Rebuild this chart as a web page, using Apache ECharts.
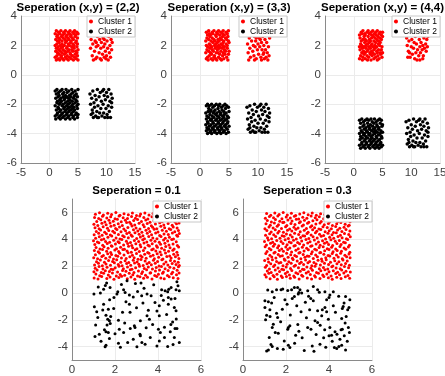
<!DOCTYPE html>
<html>
<head>
<meta charset="utf-8">
<script src="https://cdn.jsdelivr.net/npm/echarts@6/dist/echarts.min.js"></script>
<style>
  html, body { margin: 0; padding: 0; background: #fff; }
  #chart { width: 445px; height: 376px; }
</style>
</head>
<body>
<div id="chart"></div>
<script>
// tick labels
const topXTicks = [-5, 0, 5, 10, 15];
const topYTicks = [-6, -4, -2, 0, 2, 4];
const botXTicks = [0, 2, 4, 6];
const botYTicks = [-4, -2, 0, 2, 4, 6];
const botYRange = [-5, 7];

const titles = ['Seperation (x,y) = (2,2)', 'Seperation (x,y) = (3,3)', 'Seperation (x,y) = (4,4)',
  'Seperation = 0.1', 'Seperation = 0.3'];
const names = ['Cluster 1', 'Cluster 2'];

// separation (2,2)
const rd22 = [[1.0,1.2],[1.2,1.0],[1.3,1.3],[1.5,1.1],[1.7,1.4],[1.8,1.0],[2.0,1.2],[2.1,1.3],[2.3,1.1],[2.5,1.0],[2.6,1.4],[2.8,1.2],[3.0,1.1],[3.1,1.3],[3.3,1.0],[3.5,1.2],[3.7,1.4],[3.8,1.1],[4.0,1.3],[4.2,1.0],[4.4,1.2],[4.5,1.4],[4.7,1.1],[4.9,1.3],[5.0,1.0],
  [1.1,1.6],[1.2,1.8],[1.4,1.5],[1.6,1.7],[1.9,1.6],[2.0,1.8],[2.2,1.5],[2.4,1.7],[2.7,1.6],[2.9,1.5],[3.0,1.8],[3.2,1.6],[3.4,1.7],[3.6,1.5],[3.9,1.7],[4.1,1.6],[4.3,1.8],[4.6,1.6],[4.8,1.5],[5.0,1.7],
  [1.0,2.0],[1.3,2.1],[1.5,1.9],[1.7,2.2],[1.9,2.0],[2.2,2.1],[2.3,1.9],[2.6,2.0],[2.8,2.2],[3.1,1.9],[3.3,2.1],[3.5,2.0],[3.7,2.2],[3.9,1.9],[4.1,2.1],[4.3,2.0],[4.6,2.2],[4.8,1.9],[4.9,2.1],
  [1.1,2.4],[1.3,2.6],[1.4,2.3],[1.6,2.5],[1.8,2.4],[2.1,2.6],[2.2,2.3],[2.4,2.5],[2.7,2.4],[2.9,2.6],[3.0,2.3],[3.2,2.5],[3.4,2.4],[3.7,2.6],[3.8,2.3],[4.0,2.5],[4.2,2.4],[4.5,2.6],[4.7,2.3],[4.9,2.5],
  [1.0,2.8],[1.2,3.0],[1.4,2.7],[1.6,2.9],[1.8,2.8],[2.0,3.0],[2.3,2.7],[2.5,2.9],[2.6,2.8],[2.8,3.0],[3.1,2.7],[3.3,2.9],[3.5,2.8],[3.6,3.0],[3.8,2.7],[4.1,2.9],[4.3,2.8],[4.4,3.0],[4.6,2.7],[4.8,2.9],[5.0,2.8]];
const rs22 = [[7.1,2.9],[7.3,2.4],[7.2,1.8],[7.5,1.3],[7.6,2.1],[7.8,2.7],[7.9,1.6],[8.0,2.3],[8.2,1.9],[8.3,1.2],[8.4,2.6],[8.5,2.0],[8.7,1.5],[8.8,2.4],[8.9,1.1],[9.0,1.8],[9.1,2.2],[9.2,2.9],[9.3,1.4],[9.4,2.5],[9.5,1.9],[9.6,1.2],[9.7,2.1],[9.8,1.6],[9.9,2.7],[10.0,1.3],[10.1,2.3],[10.2,1.8],[10.3,1.0],[10.4,2.6],[10.5,1.5],[10.6,2.0],[10.7,1.2],[10.8,2.4],[10.9,1.7],[11.0,2.2],[7.4,2.8],[8.1,1.1],[8.6,2.8],[9.6,2.4],[10.3,2.9],[10.9,2.8],[7.7,1.0],[9.1,1.0],[9.9,1.1],[8.2,2.2]];
const bd22 = [[1.0,-1.1],[1.2,-1.3],[1.3,-1.0],[1.6,-1.2],[1.7,-1.4],[1.9,-1.1],[2.2,-1.0],[2.3,-1.3],[2.5,-1.2],[2.8,-1.4],[2.9,-1.0],[3.1,-1.2],[3.4,-1.1],[3.5,-1.4],[3.8,-1.3],[3.9,-1.0],[4.1,-1.2],[4.4,-1.4],[4.5,-1.1],[4.7,-1.3],[5.0,-1.0],
  [1.1,-1.6],[1.4,-1.8],[1.5,-1.5],[1.8,-1.7],[2.0,-1.6],[2.1,-1.8],[2.4,-1.5],[2.6,-1.7],[2.7,-1.6],[3.0,-1.5],[3.2,-1.8],[3.3,-1.6],[3.6,-1.7],[3.7,-1.5],[4.0,-1.8],[4.2,-1.6],[4.3,-1.5],[4.6,-1.7],[4.8,-1.8],[4.9,-1.5],
  [1.0,-2.1],[1.3,-1.9],[1.5,-2.2],[1.7,-2.0],[1.9,-1.9],[2.2,-2.1],[2.4,-2.0],[2.6,-2.2],[2.8,-1.9],[3.0,-2.1],[3.3,-2.0],[3.5,-2.2],[3.6,-1.9],[3.9,-2.1],[4.1,-2.0],[4.3,-2.2],[4.5,-1.9],[4.8,-2.1],[5.0,-2.0],
  [1.2,-2.4],[1.4,-2.6],[1.6,-2.3],[1.8,-2.5],[2.0,-2.4],[2.3,-2.6],[2.5,-2.3],[2.7,-2.5],[2.9,-2.4],[3.1,-2.6],[3.2,-2.3],[3.4,-2.5],[3.7,-2.4],[3.9,-2.6],[4.0,-2.3],[4.2,-2.5],[4.4,-2.4],[4.7,-2.6],[4.9,-2.3],
  [1.0,-2.8],[1.1,-3.0],[1.3,-2.7],[1.6,-2.9],[1.8,-2.8],[1.9,-3.0],[2.1,-2.7],[2.3,-2.9],[2.6,-2.8],[2.8,-3.0],[3.0,-2.7],[3.2,-2.9],[3.4,-2.8],[3.6,-3.0],[3.8,-2.7],[4.1,-2.9],[4.2,-2.8],[4.4,-3.0],[4.6,-2.7],[4.9,-2.9],[5.0,-2.7]];
const bs22 = [[7.1,-1.3],[7.2,-2.0],[7.3,-2.7],[7.4,-1.6],[7.5,-2.4],[7.6,-1.1],[7.7,-2.9],[7.8,-1.9],[7.9,-2.2],[8.0,-1.4],[8.1,-2.8],[8.2,-1.7],[8.3,-2.5],[8.4,-1.0],[8.5,-2.1],[8.6,-2.9],[8.7,-1.5],[8.8,-2.6],[8.9,-1.2],[9.0,-2.3],[9.1,-1.8],[9.2,-2.8],[9.3,-1.1],[9.4,-2.0],[9.5,-2.6],[9.6,-1.4],[9.7,-2.9],[9.8,-1.7],[9.9,-2.3],[10.0,-1.2],[10.1,-2.7],[10.2,-1.5],[10.3,-2.1],[10.4,-1.0],[10.5,-2.5],[10.6,-1.8],[10.7,-2.9],[10.8,-1.3],[10.9,-2.2],[11.0,-1.6],[7.6,-2.6],[8.4,-2.9],[9.5,-1.0],[10.2,-2.9],[10.9,-1.9]];

// separation (3,3)
const rd33 = [[1.1,1.1],[1.3,1.2],[1.4,1.0],[1.6,1.3],[1.9,1.1],[2.0,1.4],[2.2,1.0],[2.4,1.2],[2.5,1.3],[2.7,1.1],[2.9,1.0],[3.2,1.2],[3.4,1.4],[3.5,1.1],[3.7,1.0],[3.9,1.3],[4.1,1.1],[4.3,1.4],[4.6,1.2],[4.8,1.0],[4.9,1.4],
  [1.0,1.5],[1.2,1.7],[1.5,1.6],[1.7,1.8],[1.8,1.5],[2.1,1.7],[2.3,1.6],[2.6,1.8],[2.8,1.5],[3.0,1.7],[3.1,1.5],[3.3,1.8],[3.6,1.6],[3.8,1.8],[4.0,1.5],[4.2,1.7],[4.4,1.6],[4.7,1.8],[5.0,1.6],
  [1.1,2.0],[1.3,1.9],[1.6,2.1],[1.8,2.0],[2.0,1.9],[2.2,2.2],[2.5,2.0],[2.7,2.1],[2.9,1.9],[3.0,2.2],[3.2,2.0],[3.4,1.9],[3.6,2.1],[3.9,2.0],[4.0,2.2],[4.2,1.9],[4.5,2.1],[4.7,2.0],[5.0,2.2],
  [1.0,2.3],[1.2,2.5],[1.5,2.4],[1.7,2.6],[1.9,2.3],[2.1,2.5],[2.4,2.4],[2.6,2.3],[2.8,2.6],[3.1,2.4],[3.3,2.3],[3.5,2.5],[3.7,2.4],[3.9,2.6],[4.1,2.3],[4.4,2.5],[4.6,2.4],[4.8,2.6],[4.9,2.3],
  [1.1,2.9],[1.3,2.7],[1.5,3.0],[1.6,2.8],[1.8,2.7],[2.1,2.9],[2.2,2.8],[2.4,3.0],[2.7,2.7],[2.9,2.9],[3.0,2.8],[3.2,3.0],[3.4,2.7],[3.6,2.9],[3.9,2.8],[4.0,3.0],[4.2,2.7],[4.5,2.9],[4.7,2.8],[4.9,3.0]];
const rs33 = [[8.1,2.8],[8.2,2.1],[8.3,1.5],[8.5,2.5],[8.6,1.8],[8.7,1.2],[8.9,2.3],[9.0,2.9],[9.1,1.6],[9.2,2.0],[9.3,1.3],[9.4,2.6],[9.5,1.9],[9.6,2.3],[9.7,1.1],[9.8,2.8],[9.9,1.7],[10.0,2.1],[10.1,1.4],[10.2,2.5],[10.3,1.9],[10.4,2.8],[10.5,1.2],[10.6,2.2],[10.7,1.7],[10.8,2.6],[10.9,1.4],[11.0,2.0],[11.1,1.1],[11.2,2.4],[11.3,1.7],[11.4,1.2],[11.5,2.2],[11.6,1.5],[11.7,1.0],[11.8,1.9],[11.9,1.3],[12.0,2.5],[8.4,1.0],[9.4,1.0],[10.6,1.0],[8.8,2.7],[10.4,2.4],[11.0,1.5],[9.7,2.5]];
const bd33 = [[1.1,-2.1],[1.3,-2.0],[1.5,-2.3],[1.6,-2.1],[1.9,-2.4],[2.0,-2.0],[2.2,-2.2],[2.5,-2.1],[2.6,-2.4],[2.8,-2.0],[3.1,-2.3],[3.2,-2.1],[3.4,-2.0],[3.7,-2.2],[3.8,-2.4],[4.0,-2.1],[4.3,-2.0],[4.4,-2.3],[4.6,-2.1],[4.9,-2.2],
  [1.0,-2.6],[1.2,-2.8],[1.4,-2.5],[1.7,-2.7],[1.8,-2.5],[2.1,-2.8],[2.3,-2.6],[2.4,-2.5],[2.7,-2.7],[2.9,-2.6],[3.0,-2.8],[3.3,-2.5],[3.5,-2.7],[3.6,-2.6],[3.9,-2.8],[4.1,-2.5],[4.2,-2.7],[4.5,-2.6],[4.7,-2.8],[5.0,-2.5],
  [1.1,-3.0],[1.3,-3.2],[1.5,-2.9],[1.8,-3.1],[2.0,-3.0],[2.2,-3.2],[2.4,-2.9],[2.7,-3.1],[2.9,-3.0],[3.1,-3.2],[3.3,-2.9],[3.5,-3.1],[3.8,-3.0],[4.0,-3.2],[4.1,-2.9],[4.3,-3.1],[4.6,-3.0],[4.8,-3.2],[4.9,-2.9],
  [1.0,-3.4],[1.2,-3.6],[1.4,-3.3],[1.6,-3.5],[1.9,-3.4],[2.1,-3.6],[2.3,-3.3],[2.5,-3.5],[2.8,-3.4],[3.0,-3.6],[3.2,-3.3],[3.4,-3.5],[3.6,-3.4],[3.7,-3.6],[3.9,-3.3],[4.2,-3.5],[4.4,-3.4],[4.5,-3.6],[4.7,-3.3],[5.0,-3.5],
  [1.1,-3.8],[1.3,-4.0],[1.5,-3.7],[1.7,-3.9],[1.9,-3.8],[2.0,-4.0],[2.3,-3.7],[2.5,-3.9],[2.6,-3.8],[2.9,-4.0],[3.1,-3.7],[3.3,-3.9],[3.4,-3.8],[3.6,-4.0],[3.8,-3.7],[4.0,-3.9],[4.2,-3.8],[4.5,-4.0],[4.7,-3.7],[4.9,-3.9]];
const bs33 = [[8.1,-2.2],[8.2,-3.0],[8.3,-3.7],[8.4,-2.6],[8.5,-3.4],[8.6,-2.1],[8.7,-3.9],[8.8,-2.9],[8.9,-3.2],[9.0,-2.4],[9.1,-3.8],[9.2,-2.7],[9.3,-3.5],[9.4,-2.0],[9.5,-3.1],[9.6,-3.9],[9.7,-2.5],[9.8,-3.6],[9.9,-2.2],[10.0,-3.3],[10.1,-2.8],[10.2,-3.8],[10.3,-2.1],[10.4,-3.0],[10.5,-3.6],[10.6,-2.4],[10.7,-3.9],[10.8,-2.7],[10.9,-3.3],[11.0,-2.2],[11.1,-3.7],[11.2,-2.5],[11.3,-3.1],[11.4,-2.0],[11.5,-3.5],[11.6,-2.8],[11.7,-3.9],[11.8,-2.3],[11.9,-3.2],[12.0,-2.6],[8.6,-3.6],[9.4,-3.9],[10.5,-2.0],[11.2,-3.9],[11.9,-2.9]];

// separation (4,4)
const rd44 = [[1.0,1.1],[1.2,1.3],[1.5,1.0],[1.6,1.2],[1.8,1.4],[2.0,1.1],[2.3,1.3],[2.4,1.0],[2.6,1.2],[2.9,1.4],[3.0,1.0],[3.2,1.3],[3.5,1.1],[3.6,1.4],[3.8,1.2],[4.1,1.0],[4.2,1.3],[4.4,1.1],[4.7,1.4],[4.9,1.2],
  [1.1,1.7],[1.4,1.5],[1.5,1.8],[1.7,1.6],[2.0,1.5],[2.1,1.8],[2.3,1.6],[2.5,1.7],[2.8,1.5],[2.9,1.8],[3.1,1.6],[3.3,1.5],[3.5,1.7],[3.7,1.8],[4.0,1.6],[4.1,1.5],[4.3,1.7],[4.6,1.5],[4.8,1.7],[5.0,1.5],
  [1.0,1.9],[1.2,2.1],[1.4,2.0],[1.7,1.9],[1.9,2.2],[2.1,2.0],[2.4,2.1],[2.6,1.9],[2.7,2.2],[3.0,2.0],[3.2,2.1],[3.4,1.9],[3.7,2.0],[3.8,2.2],[4.0,1.9],[4.3,2.1],[4.5,2.0],[4.6,2.2],[4.9,1.9],
  [1.1,2.5],[1.3,2.3],[1.6,2.4],[1.8,2.6],[2.0,2.4],[2.2,2.3],[2.5,2.6],[2.7,2.4],[2.9,2.3],[3.1,2.5],[3.4,2.6],[3.5,2.3],[3.7,2.5],[4.0,2.4],[4.2,2.6],[4.3,2.3],[4.5,2.5],[4.8,2.4],[5.0,2.6],
  [1.0,2.7],[1.3,2.9],[1.4,2.8],[1.6,3.0],[1.9,2.8],[2.0,2.7],[2.3,2.9],[2.5,3.0],[2.7,2.8],[3.0,2.9],[3.1,2.7],[3.3,3.0],[3.6,2.8],[3.8,2.9],[3.9,2.7],[4.1,3.0],[4.4,2.8],[4.6,2.9],[4.8,2.7],[5.0,2.9]];
const rs44 = [[9.1,2.9],[9.2,2.5],[9.3,2.0],[9.4,2.8],[9.5,1.6],[9.6,2.3],[9.8,1.2],[9.9,2.7],[10.0,1.9],[10.1,2.4],[10.2,1.4],[10.3,2.9],[10.4,1.8],[10.5,2.2],[10.6,1.1],[10.7,2.6],[10.8,1.5],[10.9,2.1],[11.0,1.0],[11.1,1.7],[11.2,2.8],[11.3,1.3],[11.4,2.4],[11.5,1.9],[11.6,1.5],[11.7,2.2],[11.8,2.7],[11.9,1.7],[12.0,2.0],[12.1,1.3],[12.2,2.5],[12.3,1.8],[12.4,2.9],[12.5,2.1],[12.6,1.6],[12.7,2.4],[12.8,1.9],[12.9,2.6],[9.7,1.5],[10.8,2.9],[11.5,1.0],[12.0,1.1],[12.6,2.9],[9.4,1.2]];
const bd44 = [[1.0,-3.1],[1.2,-3.3],[1.4,-3.0],[1.7,-3.2],[1.8,-3.4],[2.0,-3.1],[2.3,-3.0],[2.4,-3.3],[2.6,-3.1],[2.9,-3.4],[3.0,-3.0],[3.2,-3.2],[3.5,-3.3],[3.6,-3.0],[3.9,-3.2],[4.0,-3.4],[4.2,-3.1],[4.5,-3.0],[4.6,-3.3],[4.8,-3.1],[5.0,-3.4],
  [1.1,-3.6],[1.3,-3.8],[1.6,-3.5],[1.8,-3.7],[2.1,-3.6],[2.2,-3.8],[2.5,-3.5],[2.7,-3.7],[2.8,-3.6],[3.1,-3.8],[3.3,-3.5],[3.4,-3.7],[3.7,-3.6],[3.8,-3.8],[4.1,-3.5],[4.3,-3.7],[4.4,-3.6],[4.7,-3.8],[4.9,-3.5],
  [1.0,-4.0],[1.2,-4.2],[1.5,-3.9],[1.7,-4.1],[1.9,-4.0],[2.1,-4.2],[2.4,-3.9],[2.6,-4.1],[2.8,-4.0],[3.0,-4.2],[3.3,-4.1],[3.5,-3.9],[3.7,-4.0],[3.9,-4.2],[4.1,-3.9],[4.3,-4.1],[4.6,-4.0],[4.8,-4.2],[5.0,-3.9],
  [1.1,-4.4],[1.4,-4.6],[1.5,-4.3],[1.8,-4.5],[2.0,-4.4],[2.2,-4.6],[2.4,-4.3],[2.7,-4.5],[2.9,-4.4],[3.1,-4.6],[3.2,-4.3],[3.4,-4.5],[3.6,-4.4],[3.9,-4.6],[4.0,-4.3],[4.2,-4.5],[4.5,-4.4],[4.7,-4.6],[4.9,-4.3],
  [1.0,-4.8],[1.2,-5.0],[1.4,-4.7],[1.6,-4.9],[1.9,-4.8],[2.0,-5.0],[2.2,-4.7],[2.5,-4.9],[2.7,-4.8],[2.8,-5.0],[3.0,-4.7],[3.3,-4.9],[3.5,-4.8],[3.7,-5.0],[3.8,-4.7],[4.0,-4.9],[4.3,-4.8],[4.4,-5.0],[4.6,-4.7],[4.8,-4.9],[5.0,-4.8]];
const bs44 = [[9.1,-3.2],[9.2,-4.0],[9.3,-4.7],[9.4,-3.6],[9.5,-4.4],[9.6,-3.1],[9.7,-4.9],[9.8,-3.9],[9.9,-4.2],[10.0,-3.4],[10.1,-4.8],[10.2,-3.7],[10.3,-4.5],[10.4,-3.0],[10.5,-4.1],[10.6,-4.9],[10.7,-3.5],[10.8,-4.6],[10.9,-3.2],[11.0,-4.3],[11.1,-3.8],[11.2,-4.8],[11.3,-3.1],[11.4,-4.0],[11.5,-4.6],[11.6,-3.4],[11.7,-4.9],[11.8,-3.7],[11.9,-4.3],[12.0,-3.2],[12.1,-4.7],[12.2,-3.5],[12.3,-4.1],[12.4,-3.0],[12.5,-4.5],[12.6,-3.8],[12.7,-4.9],[12.8,-3.3],[12.9,-4.2],[13.0,-3.6],[9.6,-4.6],[10.4,-4.9],[11.5,-3.0],[12.2,-4.9],[12.9,-3.9]];

// separation 0.1
const red01 = [[1.03,1.12],[1.21,1.04],[1.38,1.22],[1.62,1.08],[1.77,1.19],[1.95,1.02],[2.18,1.15],[2.31,1.24],[2.57,1.06],[2.74,1.18],[2.92,1.01],[3.16,1.21],[3.33,1.09],[3.51,1.16],[3.72,1.03],[3.94,1.23],[4.13,1.11],[4.29,1.05],[4.52,1.20],[4.71,1.13],[4.93,1.07],
  [1.11,1.41],[1.29,1.28],[1.47,1.46],[1.69,1.33],[1.88,1.49],[2.06,1.27],[2.24,1.38],[2.45,1.31],[2.66,1.47],[2.83,1.36],[3.05,1.26],[3.24,1.44],[3.42,1.32],[3.63,1.48],[3.85,1.29],[4.02,1.39],[4.21,1.47],[4.44,1.30],[4.63,1.42],[4.86,1.35],[4.98,1.49],
  [1.02,1.58],[1.17,1.71],[1.36,1.53],[1.55,1.66],[1.74,1.59],[1.91,1.74],[2.12,1.55],[2.35,1.68],[2.51,1.61],[2.71,1.73],[2.88,1.52],[3.09,1.64],[3.28,1.57],[3.47,1.72],[3.66,1.51],[3.88,1.63],[4.07,1.70],[4.25,1.56],[4.47,1.67],[4.68,1.54],[4.89,1.69],
  [1.08,1.83],[1.26,1.96],[1.44,1.79],[1.63,1.91],[1.82,1.77],[2.01,1.88],[2.19,1.99],[2.39,1.81],[2.58,1.93],[2.79,1.76],[2.96,1.87],[3.14,1.98],[3.36,1.82],[3.55,1.94],[3.74,1.78],[3.92,1.89],[4.16,1.97],[4.33,1.80],[4.55,1.92],[4.74,1.84],[4.95,1.95],
  [1.05,2.09],[1.23,2.21],[1.41,2.03],[1.58,2.16],[1.79,2.07],[1.97,2.24],[2.15,2.11],[2.33,2.02],[2.54,2.19],[2.73,2.06],[2.91,2.23],[3.11,2.13],[3.31,2.04],[3.49,2.18],[3.69,2.10],[3.87,2.22],[4.05,2.01],[4.27,2.15],[4.46,2.08],[4.66,2.20],[4.84,2.12],[4.99,2.05],
  [1.14,2.33],[1.32,2.46],[1.51,2.28],[1.70,2.41],[1.89,2.35],[2.08,2.48],[2.27,2.29],[2.47,2.39],[2.64,2.26],[2.85,2.44],[3.03,2.31],[3.21,2.49],[3.40,2.37],[3.59,2.27],[3.79,2.43],[3.98,2.34],[4.18,2.47],[4.37,2.30],[4.58,2.42],[4.77,2.36],[4.94,2.28],
  [1.01,2.62],[1.19,2.54],[1.39,2.71],[1.57,2.58],[1.76,2.67],[1.93,2.52],[2.13,2.74],[2.30,2.61],[2.52,2.56],[2.69,2.70],[2.89,2.63],[3.07,2.51],[3.26,2.68],[3.45,2.59],[3.65,2.73],[3.83,2.55],[4.03,2.66],[4.23,2.53],[4.41,2.72],[4.61,2.60],[4.81,2.69],[4.97,2.57],
  [1.09,2.84],[1.28,2.97],[1.46,2.79],[1.66,2.92],[1.84,2.86],[2.04,2.78],[2.22,2.95],[2.42,2.83],[2.61,2.99],[2.81,2.81],[3.00,2.93],[3.19,2.77],[3.38,2.88],[3.58,2.96],[3.77,2.80],[3.96,2.91],[4.15,2.85],[4.35,2.98],[4.54,2.76],[4.73,2.89],[4.92,2.82],
  [1.04,3.17],[1.22,3.06],[1.42,3.23],[1.61,3.11],[1.80,3.02],[1.99,3.19],[2.17,3.08],[2.37,3.24],[2.56,3.13],[2.76,3.04],[2.94,3.21],[3.13,3.09],[3.32,3.16],[3.52,3.01],[3.71,3.22],[3.90,3.12],[4.10,3.05],[4.30,3.20],[4.49,3.10],[4.69,3.18],[4.88,3.03],
  [1.12,3.38],[1.30,3.27],[1.49,3.45],[1.68,3.33],[1.86,3.48],[2.07,3.30],[2.26,3.41],[2.44,3.26],[2.63,3.47],[2.82,3.36],[3.02,3.29],[3.20,3.44],[3.39,3.35],[3.60,3.49],[3.78,3.28],[3.97,3.40],[4.17,3.32],[4.36,3.46],[4.56,3.37],[4.75,3.27],[4.96,3.43],
  [1.06,3.61],[1.25,3.73],[1.43,3.55],[1.64,3.68],[1.83,3.52],[2.02,3.64],[2.20,3.74],[2.40,3.57],[2.59,3.69],[2.78,3.53],[2.97,3.66],[3.17,3.59],[3.35,3.72],[3.54,3.56],[3.73,3.67],[3.93,3.51],[4.12,3.63],[4.32,3.71],[4.51,3.58],[4.70,3.65],[4.90,3.54],
  [1.00,3.88],[1.18,3.79],[1.37,3.96],[1.56,3.84],[1.75,3.77],[1.94,3.93],[2.14,3.81],[2.32,3.98],[2.53,3.86],[2.72,3.76],[2.90,3.91],[3.10,3.83],[3.29,3.97],[3.48,3.80],[3.67,3.92],[3.86,3.85],[4.06,3.78],[4.26,3.95],[4.45,3.87],[4.64,3.99],[4.85,3.82],
  [1.10,4.07],[1.27,4.19],[1.48,4.02],[1.67,4.14],[1.85,4.24],[2.05,4.09],[2.23,4.01],[2.43,4.18],[2.62,4.11],[2.80,4.23],[3.01,4.05],[3.18,4.16],[3.37,4.03],[3.57,4.21],[3.76,4.10],[3.95,4.04],[4.14,4.20],[4.34,4.08],[4.53,4.15],[4.72,4.02],[4.91,4.22],
  [1.03,4.34],[1.24,4.45],[1.40,4.29],[1.60,4.41],[1.78,4.31],[1.98,4.48],[2.16,4.36],[2.36,4.27],[2.55,4.43],[2.75,4.32],[2.93,4.49],[3.12,4.38],[3.30,4.26],[3.50,4.44],[3.70,4.33],[3.89,4.47],[4.08,4.28],[4.28,4.40],[4.48,4.35],[4.67,4.46],[4.87,4.30],[4.99,4.42],
  [1.13,4.57],[1.33,4.69],[1.52,4.53],[1.71,4.66],[1.90,4.59],[2.09,4.73],[2.28,4.55],[2.49,4.64],[2.67,4.51],[2.86,4.70],[3.06,4.61],[3.25,4.52],[3.44,4.67],[3.62,4.58],[3.82,4.74],[4.00,4.54],[4.20,4.68],[4.39,4.60],[4.59,4.72],[4.78,4.56],[4.95,4.65],
  [1.07,4.86],[1.26,4.78],[1.45,4.94],[1.65,4.82],[1.81,4.97],[2.03,4.80],[2.21,4.91],[2.41,4.77],[2.60,4.88],[2.79,4.99],[2.98,4.84],[3.16,4.76],[3.36,4.93],[3.56,4.81],[3.75,4.89],[3.94,4.79],[4.13,4.96],[4.31,4.85],[4.52,4.78],[4.71,4.92],[4.89,4.83],
  [1.02,5.11],[1.20,5.03],[1.39,5.19],[1.59,5.08],[1.77,5.22],[1.96,5.05],[2.15,5.16],[2.34,5.02],[2.54,5.24],[2.74,5.13],[2.92,5.06],[3.12,5.20],[3.31,5.09],[3.50,5.17],[3.69,5.01],[3.88,5.14],[4.08,5.23],[4.27,5.07],[4.47,5.18],[4.66,5.04],[4.86,5.15],[4.98,5.21],
  [1.15,5.33],[1.34,5.46],[1.53,5.28],[1.72,5.41],[1.92,5.35],[2.11,5.49],[2.29,5.30],[2.48,5.42],[2.68,5.27],[2.87,5.39],[3.05,5.47],[3.23,5.32],[3.43,5.44],[3.63,5.26],[3.81,5.38],[4.01,5.48],[4.19,5.31],[4.40,5.43],[4.58,5.36],[4.79,5.29],[4.96,5.45],
  [1.05,5.62],[1.24,5.54],[1.42,5.71],[1.62,5.58],[1.80,5.67],[2.00,5.52],[2.19,5.73],[2.38,5.60],[2.58,5.55],[2.77,5.69],[2.95,5.57],[3.15,5.74],[3.34,5.63],[3.53,5.51],[3.72,5.68],[3.91,5.59],[4.11,5.72],[4.30,5.56],[4.50,5.66],[4.69,5.53],[4.88,5.70],
  [1.09,5.87],[1.28,5.98],[1.46,5.80],[1.66,5.93],[1.84,5.84],[2.04,5.99],[2.23,5.78],[2.42,5.90],[2.62,5.83],[2.81,5.96],[3.00,5.77],[3.19,5.89],[3.39,5.95],[3.58,5.81],[3.77,5.92],[3.97,5.86],[4.16,5.79],[4.36,5.97],[4.55,5.85],[4.74,5.91],[4.93,5.82]];
const blk01 = [[1.61,0.73],[1.77,0.41],[2.56,0.91],[3.21,0.73],[4.88,0.83],[4.93,0.53],[1.02,-0.09],[1.32,-0.01],[1.47,0.28],[2.13,0.08],[2.09,-0.09],[2.40,0.23],[2.47,0.04],[2.67,-0.16],[3.24,-0.21],[3.49,-0.09],[3.68,-0.21],[4.17,0.23],[4.33,0.16],[4.45,0.08],[4.50,0.28],[4.61,0.41],[4.84,0.23],[4.99,0.16],
  [1.75,-0.51],[2.51,-0.66],[2.67,-0.84],[1.04,-1.04],[1.47,-0.84],[3.86,-0.71],[4.06,-0.96],[4.48,-0.34],[4.61,-0.46],[4.79,-0.41],[4.48,-0.84],[4.76,-1.09],[4.84,-1.33],[1.43,-1.28],[1.69,-1.21],[1.94,-1.16],[1.58,-1.66],[1.20,-1.83],[1.66,-1.96],[1.74,-2.08],[2.16,-2.03],
  [3.49,-1.71],[3.60,-1.96],[4.06,-1.71],[3.18,-2.08],[2.90,-2.45],[2.93,-2.58],[1.63,-2.40],[1.78,-2.28],[4.68,-2.16],[4.79,-2.65],[4.88,-2.65],[1.51,-2.75],[1.58,-2.90],[2.20,-2.70],[2.71,-2.65],[3.16,-3.08],[3.18,-3.20],[3.64,-3.33],[4.11,-2.95],[4.30,-3.33],[4.02,-2.70],[4.57,-2.90],
  [1.07,-3.25],[1.27,-3.08],[1.74,-3.40],[4.06,-3.58],[4.76,-3.33],[1.69,-2.95],[2.59,-3.70],[2.16,-3.75],[3.02,-4.02],[1.58,-3.90],[1.54,-4.02],[3.40,-3.82],[4.45,-4.00],[4.99,-3.70],
  [1.22,0.45],[2.30,0.62],[2.85,-0.30],[3.05,0.10],[3.35,0.35],[3.80,0.60],[4.25,-0.55],[1.95,-0.35],[2.35,-1.45],[3.00,-1.10],[3.30,-0.75],[3.95,-1.35],[4.40,-1.60],[1.10,-2.40],[2.45,-2.25],[3.75,-2.35],[4.30,-2.55],[2.00,-3.05],[2.85,-3.45],[3.95,-3.95],[4.70,-3.85],[1.35,-3.60],[2.40,-2.95],[3.45,-2.60],[4.85,-1.95],[1.80,-1.75],[2.70,-1.45],[3.55,-1.30],[4.15,-0.20],[1.55,0.55],[2.95,0.70],[4.60,-2.35],[1.15,-1.40],[3.25,-3.70],[2.25,-4.05]];

// separation 0.3
const red03 = [[1.08,1.18],[1.26,1.06],[1.45,1.21],[1.60,1.02],[1.83,1.14],[2.02,1.23],[2.20,1.09],[2.40,1.17],[2.61,1.04],[2.78,1.24],[2.99,1.11],[3.19,1.03],[3.37,1.19],[3.58,1.08],[3.76,1.22],[3.97,1.13],[4.15,1.01],[4.36,1.16],[4.56,1.07],[4.76,1.20],[4.96,1.10],
  [1.02,1.36],[1.20,1.47],[1.40,1.29],[1.58,1.40],[1.78,1.26],[1.97,1.45],[2.16,1.34],[2.36,1.27],[2.55,1.43],[2.73,1.31],[2.94,1.48],[3.13,1.37],[3.33,1.28],[3.51,1.46],[3.71,1.33],[3.90,1.41],[4.10,1.26],[4.31,1.44],[4.49,1.35],[4.69,1.49],[4.88,1.30],
  [1.13,1.64],[1.31,1.52],[1.50,1.70],[1.70,1.59],[1.89,1.73],[2.07,1.56],[2.27,1.67],[2.46,1.51],[2.66,1.62],[2.84,1.74],[3.04,1.57],[3.23,1.69],[3.42,1.53],[3.62,1.65],[3.81,1.72],[4.00,1.58],[4.20,1.66],[4.40,1.54],[4.59,1.71],[4.79,1.61],[4.99,1.55],
  [1.04,1.91],[1.23,1.79],[1.42,1.97],[1.63,1.85],[1.81,1.76],[2.01,1.94],[2.21,1.82],[2.38,1.99],[2.58,1.88],[2.77,1.77],[2.97,1.93],[3.16,1.84],[3.35,1.98],[3.55,1.80],[3.74,1.90],[3.94,1.78],[4.13,1.95],[4.33,1.86],[4.52,1.81],[4.72,1.96],[4.91,1.87],
  [1.10,2.04],[1.29,2.17],[1.48,2.09],[1.67,2.23],[1.86,2.02],[2.05,2.14],[2.24,2.21],[2.44,2.06],[2.63,2.19],[2.82,2.11],[3.02,2.24],[3.20,2.03],[3.40,2.16],[3.60,2.08],[3.79,2.22],[3.98,2.12],[4.18,2.01],[4.37,2.18],[4.57,2.10],[4.77,2.20],[4.95,2.07],
  [1.01,2.42],[1.19,2.30],[1.37,2.48],[1.56,2.35],[1.76,2.27],[1.95,2.44],[2.13,2.32],[2.33,2.49],[2.52,2.38],[2.71,2.28],[2.91,2.45],[3.10,2.34],[3.30,2.26],[3.49,2.43],[3.68,2.36],[3.87,2.47],[4.07,2.29],[4.27,2.40],[4.46,2.33],[4.65,2.46],[4.85,2.37],
  [1.16,2.55],[1.34,2.68],[1.53,2.60],[1.73,2.74],[1.92,2.53],[2.10,2.65],[2.30,2.58],[2.49,2.71],[2.69,2.54],[2.88,2.66],[3.07,2.73],[3.27,2.57],[3.46,2.69],[3.65,2.52],[3.85,2.63],[4.04,2.75],[4.23,2.59],[4.43,2.67],[4.62,2.55],[4.82,2.70],[4.98,2.62],
  [1.06,2.93],[1.25,2.81],[1.44,2.98],[1.64,2.87],[1.83,2.77],[2.03,2.95],[2.22,2.84],[2.41,2.79],[2.60,2.97],[2.80,2.86],[2.99,2.76],[3.18,2.92],[3.38,2.83],[3.57,2.99],[3.76,2.88],[3.96,2.78],[4.15,2.94],[4.35,2.82],[4.54,2.96],[4.74,2.80],[4.93,2.90],
  [1.12,3.08],[1.30,3.21],[1.49,3.03],[1.69,3.16],[1.88,3.10],[2.08,3.24],[2.26,3.05],[2.46,3.18],[2.65,3.01],[2.84,3.13],[3.04,3.22],[3.22,3.07],[3.42,3.19],[3.61,3.02],[3.80,3.14],[4.00,3.23],[4.19,3.06],[4.38,3.17],[4.58,3.11],[4.78,3.25],[4.97,3.04],
  [1.03,3.44],[1.22,3.31],[1.41,3.48],[1.61,3.36],[1.80,3.27],[1.99,3.42],[2.18,3.34],[2.37,3.49],[2.57,3.29],[2.76,3.40],[2.96,3.33],[3.15,3.47],[3.34,3.26],[3.54,3.38],[3.73,3.45],[3.92,3.30],[4.12,3.41],[4.31,3.28],[4.51,3.46],[4.70,3.35],[4.90,3.43],
  [1.09,3.57],[1.28,3.70],[1.47,3.62],[1.66,3.52],[1.86,3.68],[2.05,3.59],[2.24,3.74],[2.43,3.54],[2.63,3.66],[2.82,3.58],[3.01,3.72],[3.21,3.51],[3.40,3.64],[3.59,3.56],[3.79,3.71],[3.98,3.60],[4.17,3.53],[4.37,3.69],[4.56,3.61],[4.76,3.73],[4.95,3.55],
  [1.00,3.83],[1.18,3.95],[1.38,3.78],[1.57,3.90],[1.77,3.84],[1.96,3.97],[2.15,3.80],[2.35,3.92],[2.54,3.76],[2.73,3.87],[2.93,3.99],[3.12,3.82],[3.32,3.94],[3.51,3.79],[3.70,3.89],[3.90,3.77],[4.09,3.96],[4.29,3.85],[4.48,3.91],[4.68,3.78],[4.87,3.98],
  [1.14,4.12],[1.33,4.03],[1.52,4.20],[1.72,4.08],[1.91,4.23],[2.11,4.05],[2.29,4.16],[2.48,4.01],[2.68,4.13],[2.87,4.24],[3.06,4.06],[3.26,4.18],[3.45,4.09],[3.64,4.22],[3.84,4.02],[4.03,4.15],[4.22,4.07],[4.42,4.21],[4.61,4.11],[4.81,4.04],[4.99,4.19],
  [1.05,4.29],[1.24,4.41],[1.43,4.33],[1.62,4.47],[1.82,4.27],[2.02,4.39],[2.20,4.31],[2.40,4.45],[2.59,4.36],[2.79,4.26],[2.98,4.43],[3.17,4.32],[3.37,4.48],[3.56,4.38],[3.75,4.28],[3.95,4.44],[4.14,4.34],[4.34,4.49],[4.53,4.30],[4.72,4.42],[4.92,4.35],
  [1.11,4.66],[1.31,4.54],[1.50,4.71],[1.68,4.59],[1.88,4.52],[2.07,4.68],[2.27,4.61],[2.46,4.74],[2.66,4.56],[2.85,4.67],[3.03,4.53],[3.24,4.70],[3.43,4.60],[3.62,4.73],[3.82,4.55],[4.01,4.64],[4.21,4.51],[4.40,4.69],[4.60,4.58],[4.79,4.72],[4.97,4.62],
  [1.02,4.79],[1.21,4.92],[1.40,4.84],[1.59,4.97],[1.79,4.81],[1.98,4.93],[2.17,4.77],[2.37,4.89],[2.56,4.83],[2.75,4.98],[2.95,4.80],[3.14,4.91],[3.33,4.85],[3.53,4.76],[3.72,4.94],[3.92,4.87],[4.11,4.78],[4.31,4.95],[4.50,4.82],[4.70,4.90],[4.89,4.99],
  [1.07,5.15],[1.27,5.04],[1.46,5.21],[1.65,5.09],[1.85,5.24],[2.04,5.02],[2.23,5.17],[2.42,5.10],[2.62,5.23],[2.81,5.06],[3.00,5.19],[3.20,5.01],[3.39,5.13],[3.58,5.22],[3.78,5.08],[3.97,5.18],[4.16,5.03],[4.36,5.16],[4.55,5.25],[4.75,5.11],[4.94,5.05],
  [1.13,5.40],[1.32,5.28],[1.51,5.47],[1.71,5.34],[1.90,5.27],[2.09,5.43],[2.28,5.36],[2.48,5.49],[2.67,5.30],[2.86,5.42],[3.06,5.26],[3.25,5.38],[3.44,5.46],[3.64,5.32],[3.83,5.44],[4.02,5.29],[4.22,5.41],[4.41,5.33],[4.61,5.48],[4.80,5.37],[4.98,5.31],
  [1.04,5.56],[1.23,5.69],[1.42,5.61],[1.62,5.74],[1.81,5.53],[2.01,5.66],[2.20,5.58],[2.39,5.71],[2.59,5.51],[2.78,5.64],[2.97,5.57],[3.17,5.73],[3.36,5.60],[3.55,5.68],[3.75,5.52],[3.94,5.65],[4.13,5.59],[4.33,5.72],[4.52,5.54],[4.72,5.67],[4.91,5.62],
  [1.10,5.91],[1.29,5.79],[1.48,5.96],[1.68,5.85],[1.87,5.99],[2.06,5.81],[2.25,5.93],[2.45,5.77],[2.64,5.89],[2.83,5.98],[3.03,5.83],[3.22,5.95],[3.41,5.78],[3.61,5.90],[3.80,5.84],[4.00,5.97],[4.19,5.80],[4.39,5.92],[4.58,5.86],[4.78,5.76],[4.97,5.94]];
const blk03 = [[1.15,0.21],[1.36,0.08],[1.56,0.23],[1.77,0.23],[2.08,0.18],[2.26,0.23],[2.39,0.41],[2.54,0.41],[2.65,0.23],[2.60,0.04],[3.01,0.16],[3.27,0.48],[3.47,0.23],[3.81,0.08],[4.04,-0.16],[4.20,0.08],[4.77,-0.26],[4.97,-0.51],
  [1.02,-0.59],[1.18,-0.66],[1.33,-0.76],[1.95,-0.51],[2.29,-0.41],[2.39,-0.26],[2.57,-0.09],[2.73,-0.01],[3.15,-0.41],[3.27,-0.59],[3.89,-0.51],[4.00,-0.34],[1.02,-1.09],[1.10,-1.66],[1.26,-1.76],[1.83,-1.21],[2.70,-1.41],
  [3.47,-1.33],[3.69,-1.26],[3.81,-1.09],[3.89,-1.41],[4.62,-1.16],[4.66,-1.01],[4.87,-1.26],[4.93,-1.09],[1.56,-1.51],[1.61,-1.83],[3.66,-1.71],[3.35,-2.08],[3.47,-2.21],[3.59,-2.41],[3.97,-1.96],[4.59,-1.91],
  [1.41,-2.33],[1.36,-2.58],[2.11,-2.58],[2.18,-2.45],[2.08,-2.70],[3.01,-2.58],[3.16,-2.70],[4.04,-2.58],[4.56,-2.75],[4.62,-2.70],[4.90,-2.58],[4.28,-2.90],[4.37,-3.08],[1.64,-3.00],[2.45,-3.15],[1.22,-3.33],[1.92,-3.58],
  [4.00,-3.20],[4.12,-3.15],[4.71,-3.20],[4.51,-3.45],[3.58,-3.82],[3.22,-3.95],[2.11,-3.90],[2.18,-4.07],[1.18,-4.25],[1.10,-4.32],[1.36,-4.00],[1.87,-4.20],[4.25,-4.07],[4.36,-4.15],[4.46,-4.00],[4.59,-3.90],[4.77,-4.25],
  [1.45,-0.35],[2.05,-0.85],[2.90,-0.70],[3.55,0.05],[4.45,-0.25],[4.70,-0.75],[1.25,-1.25],[2.20,-1.65],[2.95,-1.85],[4.30,-1.45],[4.80,-1.75],[1.75,-2.15],[2.55,-2.35],[3.80,-2.75],[4.75,-2.25],[1.50,-2.95],[2.75,-3.35],
  [3.40,-3.10],[4.85,-3.60],[2.40,-3.75],[3.85,-4.05],[1.60,-4.15],[2.85,-4.30],[4.15,-3.60],[1.05,-2.00],[3.10,-1.25],[2.50,-0.95],[4.20,-0.95],[1.85,0.30],[3.05,-0.25],[3.75,-3.35],[1.30,-3.85],[2.60,-2.85],[3.30,-4.35],[4.95,-2.95]];

const panelData = [
  [rd22.concat(rs22), bd22.concat(bs22)],
  [rd33.concat(rs33), bd33.concat(bs33)],
  [rd44.concat(rs44), bd44.concat(bs44)],
  [red01, blk01],
  [red03, blk03]
];

const grids = [
  { left: 21, top: 16, width: 114, height: 147 },
  { left: 171, top: 16, width: 116, height: 147 },
  { left: 325, top: 16, width: 115, height: 147 },
  { left: 72, top: 199, width: 129, height: 161 },
  { left: 243, top: 199, width: 129, height: 161 }
];

const font = 'Liberation Sans, Arial, Helvetica, sans-serif';
const colors = ['#ff0000', '#000000'];

function axis(gi, ticks, range) {
  return {
    type: 'value',
    gridIndex: gi,
    min: range[0],
    max: range[1],
    axisLine: { show: true, onZero: false, lineStyle: { color: '#8a8a8a', width: 1 } },
    axisTick: { show: false, customValues: ticks },
    axisLabel: { customValues: ticks, fontSize: 11.5, color: '#404040', fontFamily: font, margin: 4 },
    splitLine: { show: true, lineStyle: { color: '#ebebeb', width: 1 } }
  };
}

const xAxes = [], yAxes = [], series = [], legends = [], titleOpts = [];
grids.forEach(function (g, i) {
  const top = i < 3;
  const xt = top ? topXTicks : botXTicks;
  const yt = top ? topYTicks : botYTicks;
  xAxes.push(axis(i, xt, [xt[0], xt[xt.length - 1]]));
  yAxes.push(axis(i, yt, top ? [yt[0], yt[yt.length - 1]] : botYRange));
  names.forEach(function (n, k) {
    series.push({
      type: 'scatter', name: n, xAxisIndex: i, yAxisIndex: i,
      data: panelData[i][k], symbolSize: top ? 3.5 : 3, silent: true,
      itemStyle: { color: colors[k], opacity: 1 }
    });
  });
  legends.push({
    data: names, orient: 'vertical', right: 445 - (g.left + g.width), top: g.top + (top ? 0 : 2),
    icon: 'circle', itemWidth: 4, itemHeight: 4, itemGap: 1,
    padding: [1, 3, 1, 2], borderColor: '#c8c8c8', borderWidth: 1, backgroundColor: '#fff',
    textStyle: { fontSize: 8.5, color: '#000', fontFamily: font }, selectedMode: false
  });
  titleOpts.push({
    text: titles[i], left: g.left + g.width / 2, top: top ? 2 : 185, textAlign: 'center', padding: 0,
    textStyle: { fontSize: 11.5, fontWeight: 'bold', color: '#000', fontFamily: font }
  });
});

const chart = echarts.init(document.getElementById('chart'), null, { renderer: 'canvas' });
chart.setOption({
  animation: false,
  backgroundColor: '#fff',
  title: titleOpts,
  legend: legends,
  grid: grids.map(function (g) { return Object.assign({ outerBoundsMode: 'none', containLabel: false }, g); }),
  xAxis: xAxes,
  yAxis: yAxes,
  series: series
});
</script>
</body>
</html>
